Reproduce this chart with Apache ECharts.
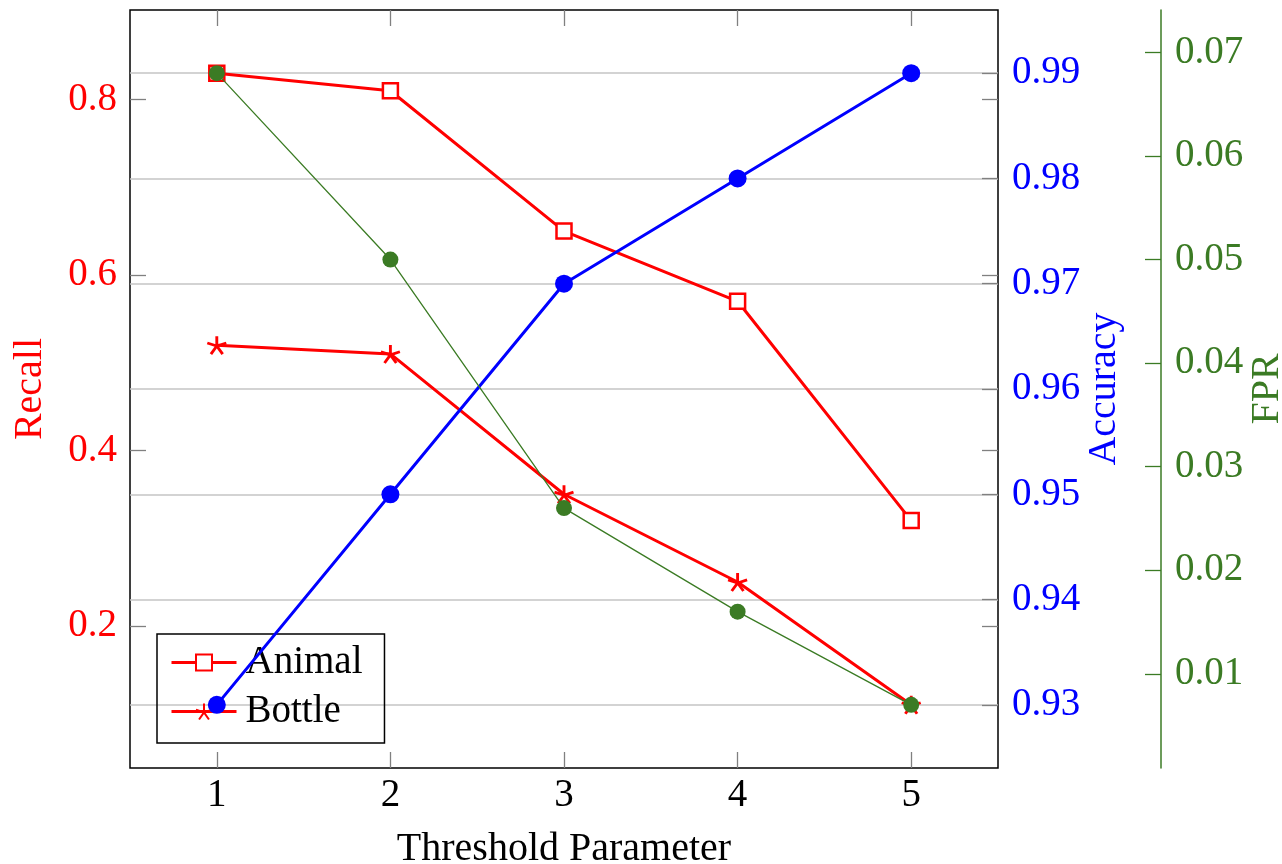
<!DOCTYPE html>
<html>
<head>
<meta charset="utf-8">
<script src="https://cdn.jsdelivr.net/npm/echarts@6/dist/echarts.min.js"></script>
<style>
  html, body { margin: 0; padding: 0; background: #fff; }
  #chart { width: 1282px; height: 864px; }
</style>
</head>
<body>
<div id="chart"></div>
<script>
// data
const thresholds = ['1', '2', '3', '4', '5'];
const animalRecall = [0.83, 0.81, 0.65, 0.57, 0.32];
const bottleRecall = [0.52, 0.51, 0.35, 0.25, 0.11];
const accuracy = [0.93, 0.95, 0.97, 0.98, 0.99];
const fpr = [0.068, 0.05, 0.026, 0.016, 0.007];

const recallTicks = [0.2, 0.4, 0.6, 0.8];
const accuracyTicks = [0.93, 0.94, 0.95, 0.96, 0.97, 0.98, 0.99];
const fprTicks = [0.01, 0.02, 0.03, 0.04, 0.05, 0.06, 0.07];

const RED = '#ff0000';
const BLUE = '#0000ff';
const GREEN = '#3b7b24';
const FONT = '"Liberation Serif", "DejaVu Serif", serif';
const TICK = '#808080';

// asterisk-like star marker (stroked spokes)
const starPath = 'path://M0,0L0,-10M0,0L9.51,-3.09M0,0L5.88,8.09M0,0L-5.88,8.09M0,0L-9.51,-3.09';

const chart = echarts.init(document.getElementById('chart'));

const tickStyle = (color, values) => ({
  show: true,
  inside: true,
  length: 16,
  customValues: values,
  lineStyle: { color: color, width: 1.3 }
});

const option = {
  animation: false,
  backgroundColor: '#fff',
  textStyle: { fontFamily: FONT },
  grid: {
    left: 130,
    right: 284,
    top: 10,
    bottom: 96,
    outerBoundsMode: 'none',
    show: true,
    borderColor: '#000',
    borderWidth: 1.5,
    backgroundColor: 'transparent'
  },
  legend: {
    data: ['Animal', 'Bottle'],
    orient: 'vertical',
    left: 157,
    top: 634,
    itemWidth: 65,
    itemHeight: 20,
    itemGap: 10,
    padding: [9, 22, 12, 13],
    borderColor: '#000',
    borderWidth: 1.5,
    lineStyle: { width: 3 },
    textStyle: { fontFamily: FONT, fontSize: 39, color: '#000', padding: [0, 0, 0, 4] }
  },
  xAxis: [
    {
      type: 'category',
      data: thresholds,
      position: 'bottom',
      name: 'Threshold Parameter',
      nameLocation: 'middle',
      nameGap: 61,
      nameTextStyle: { fontFamily: FONT, fontSize: 40, color: '#000' },
      axisLine: { show: false },
      axisTick: { show: true, inside: true, length: 16, alignWithLabel: true, lineStyle: { color: TICK, width: 1.3 } },
      axisLabel: { margin: 8, fontFamily: FONT, fontSize: 39, color: '#000' },
      splitLine: { show: false }
    },
    {
      type: 'category',
      data: thresholds,
      position: 'top',
      axisLine: { show: false },
      axisTick: { show: true, inside: true, length: 16, alignWithLabel: true, lineStyle: { color: TICK, width: 1.3 } },
      axisLabel: { show: false },
      splitLine: { show: false }
    }
  ],
  yAxis: [
    {
      type: 'value',
      position: 'left',
      min: 0.038,
      max: 0.902,
      name: 'Recall',
      nameLocation: 'middle',
      nameRotate: 90,
      nameGap: 80,
      nameMoveOverlap: false,
      nameTextStyle: { fontFamily: FONT, fontSize: 40, color: RED },
      axisLine: { show: false },
      axisTick: tickStyle(TICK, recallTicks),
      axisLabel: {
        customValues: recallTicks,
        margin: 13,
        fontFamily: FONT, fontSize: 39, color: RED,
        formatter: v => String(+v.toFixed(2))
      },
      splitLine: { show: false }
    },
    {
      type: 'value',
      position: 'right',
      min: 0.924,
      max: 0.996,
      name: 'Accuracy',
      nameLocation: 'middle',
      nameRotate: 90,
      nameGap: 86,
      nameMoveOverlap: false,
      nameTextStyle: { fontFamily: FONT, fontSize: 40, color: BLUE },
      axisLine: { show: false },
      axisTick: tickStyle(TICK, accuracyTicks),
      axisLabel: {
        customValues: accuracyTicks,
        margin: 14,
        fontFamily: FONT, fontSize: 39, color: BLUE,
        formatter: v => String(+v.toFixed(3))
      },
      splitLine: { show: true, lineStyle: { color: '#c4c4c4', width: 1.5 } }
    },
    {
      type: 'value',
      position: 'right',
      offset: 163,
      min: 0.0009,
      max: 0.0741,
      name: 'FPR',
      nameLocation: 'middle',
      nameRotate: 90,
      nameGap: 86,
      nameMoveOverlap: false,
      nameTextStyle: { fontFamily: FONT, fontSize: 40, color: GREEN },
      axisLine: { show: true, lineStyle: { color: GREEN, width: 1.5 } },
      axisTick: tickStyle(GREEN, fprTicks),
      axisLabel: {
        customValues: fprTicks,
        margin: 14,
        fontFamily: FONT, fontSize: 39, color: GREEN,
        formatter: v => String(+v.toFixed(3))
      },
      splitLine: { show: false }
    },
    {
      // mirrored recall ticks on the right edge of the frame
      type: 'value',
      position: 'right',
      min: 0.038,
      max: 0.902,
      axisLine: { show: false },
      axisTick: tickStyle(TICK, recallTicks),
      axisLabel: { show: false },
      splitLine: { show: false }
    }
  ],
  series: [
    {
      name: 'Animal',
      type: 'line',
      yAxisIndex: 0,
      data: animalRecall,
      symbol: 'rect',
      symbolSize: 15,
      lineStyle: { color: RED, width: 3 },
      itemStyle: { color: '#fff', borderColor: RED, borderWidth: 2.5 },
      z: 2
    },
    {
      name: 'Bottle',
      type: 'line',
      yAxisIndex: 0,
      data: bottleRecall,
      symbol: starPath,
      symbolSize: [19, 18],
      lineStyle: { color: RED, width: 3 },
      itemStyle: { color: RED, borderColor: RED, borderWidth: 2.8 },
      z: 3
    },
    {
      name: 'Accuracy',
      type: 'line',
      yAxisIndex: 1,
      data: accuracy,
      symbol: 'circle',
      symbolSize: 18,
      lineStyle: { color: BLUE, width: 3 },
      itemStyle: { color: BLUE },
      z: 4
    },
    {
      name: 'FPR',
      type: 'line',
      yAxisIndex: 2,
      data: fpr,
      symbol: 'circle',
      symbolSize: 16,
      lineStyle: { color: GREEN, width: 1.3 },
      itemStyle: { color: GREEN },
      z: 5
    }
  ]
};

chart.setOption(option);
</script>
</body>
</html>
